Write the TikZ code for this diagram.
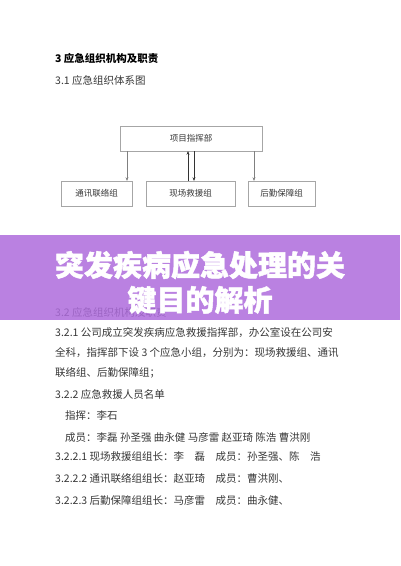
\documentclass[tikz,border=0pt]{standalone}
\usepackage{fontspec}
\usepackage{xcolor}
\usetikzlibrary{arrows.meta}
\newfontfamily\cjk{Noto Sans CJK SC}
\newfontfamily\cjktitle{Noto Sans CJK SC}[BoldFeatures={FakeBold=1.5}]
\definecolor{banner}{RGB}{174,108,220}
\definecolor{ink}{RGB}{55,55,55}

\begin{document}
\begin{tikzpicture}[x=1pt,y=-1pt,
  box/.style={draw=gray!70,fill=white,minimum height=25pt,inner sep=0pt,
    font=\cjk\fontsize{8.5}{10}\selectfont,text=ink},
  txt/.style={anchor=west,inner sep=0pt,font=\cjk\fontsize{10.5}{12}\selectfont,text=ink},
  head/.style={txt,font=\cjk\bfseries\fontsize{10.5}{12}\selectfont,text=black},
  link/.style={-{Stealth[length=3.5pt,width=3pt]},black!80},
  title/.style={inner sep=0pt,text=white,font=\cjktitle\bfseries\fontsize{29}{32}\selectfont}]
\useasboundingbox[fill=white] (0,0) rectangle (400,566);

% headings
\node[head] (h3) at (55,58) {3 应急组织机构及职责};
\node[txt] (h31) at (55,80) {3.1 应急组织体系图};

% org chart
\node[box,minimum width=142pt] (zhb) at (191,138.5) {项目指挥部};
\node[box,minimum width=71pt] (txl) at (96.5,193.5) {通讯联络组};
\node[box,minimum width=89pt] (xjy) at (190.5,193.5) {现场救援组};
\node[box,minimum width=67pt] (hbz) at (281.5,193.5) {后勤保障组};
\draw[link,draw=gray] ([xshift=-64pt]zhb.south) -- ([xshift=30.5pt]txl.north);
\draw[link] ([xshift=-2.5pt]xjy.north) -- ([xshift=-3pt]zhb.south);
\draw[link] ([xshift=3pt]zhb.south) -- ([xshift=3.5pt]xjy.north);
\draw[link,draw=gray] ([xshift=63pt]zhb.south) -- ([xshift=-27.5pt]hbz.north);

% body text
\node[txt] (l1) at (55,312) {3.2 应急组织机构及职责};
\node[txt] (l2) at (55,333) {3.2.1 公司成立突发疾病应急救援指挥部，办公室设在公司安};
\node[txt] (l3) at (55,353) {全科，指挥部下设 3 个应急小组，分别为：现场救援组、通讯};
\node[txt] (l4) at (55,373) {联络组、后勤保障组；};
\node[txt] (l5) at (55,394) {3.2.2 应急救援人员名单};
\node[txt] (l6) at (65,416) {指挥：李石};
\node[txt] (l7) at (65,437) {成员：李磊 孙圣强 曲永健 马彦雷 赵亚琦 陈浩 曹洪刚};
\node[txt] (l8) at (55,457) {3.2.2.1 现场救援组组长：李　磊　成员：孙圣强、陈　浩};
\node[txt] (l9) at (55,479) {3.2.2.2 通讯联络组组长：赵亚琦　成员：曹洪刚、};
\node[txt] (l10) at (55,500) {3.2.2.3 后勤保障组组长：马彦雷　成员：曲永健、};

% banner
\fill[banner,opacity=0.85] (0,235) rectangle (400,320);
\node[title] (t1) at (200,265) {突发疾病应急处理的关};
\node[title] (t2) at (200,300) {键目的解析};
\end{tikzpicture}
\end{document}
